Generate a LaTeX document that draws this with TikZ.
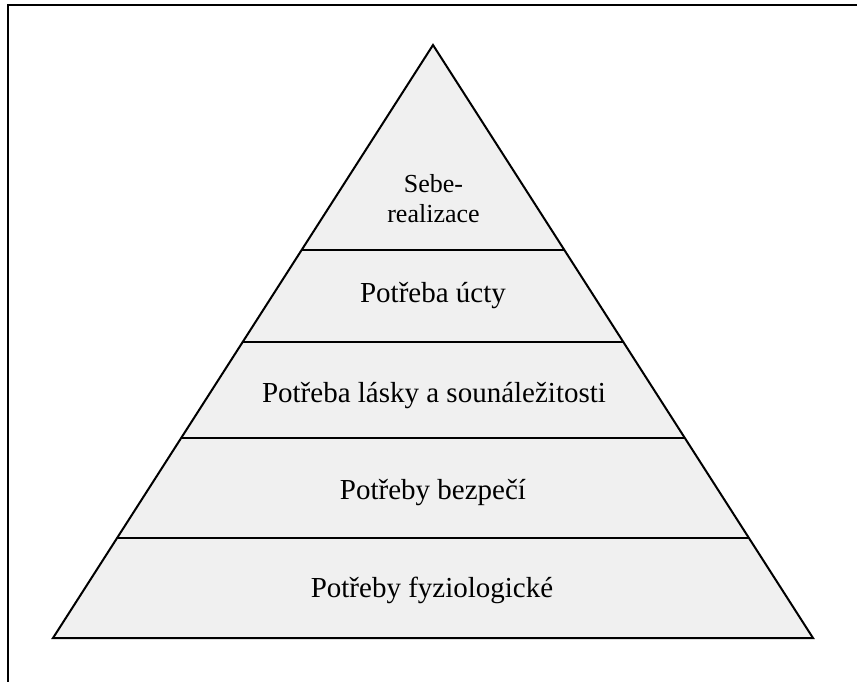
\documentclass[tikz,border=0pt]{standalone}
\usepackage{fontspec}
\setmainfont{Liberation Serif}
\usetikzlibrary{calc}
\definecolor{layerfill}{HTML}{F0F0F0}
\tikzset{
  frameline/.style={line width=2pt, draw=black},
  pyramid/.style={line width=2pt, draw=black, fill=layerfill, line join=miter},
  divider/.style={line width=2pt, draw=black},
  label/.style={anchor=base, inner sep=0pt, font=\fontsize{29}{30}\selectfont},
  toplabel/.style={anchor=base, inner sep=0pt, font=\fontsize{26}{30}\selectfont}
}
\begin{document}
\begin{tikzpicture}[x=1pt,y=-1pt]
  \clip (0,0) rectangle (857,681);
  \fill[white] (0,0) rectangle (857,681);
  % page frame (runs past the right and bottom edges)
  \draw[frameline] (8,5) rectangle (900,720);

  % pyramid outline
  \coordinate (apex) at (433,45);
  \coordinate (bl) at (53,638);
  \coordinate (br) at (813,638);
  \draw[pyramid] (apex) -- (bl) -- (br) -- cycle;

  % level dividers
  \foreach \name/\t in {a/0.345, b/0.5008, c/0.6627, d/0.8314} {
    \coordinate (\name L) at ($(apex)!\t!(bl)$);
    \coordinate (\name R) at ($(apex)!\t!(br)$);
    \draw[divider] (\name L) -- (\name R);
  }

  % level labels
  \node[toplabel] (self1) at (433.5,192) {Sebe-};
  \node[toplabel] (self2) at (433.5,222) {realizace};
  \node[label] (esteem) at (433,302) {Potřeba úcty};
  \node[label] (love) at (434,402) {Potřeba lásky a sounáležitosti};
  \node[label] (safety) at (433,499) {Potřeby bezpečí};
  \node[label] (physio) at (432,597) {Potřeby fyziologické};
\end{tikzpicture}
\end{document}
